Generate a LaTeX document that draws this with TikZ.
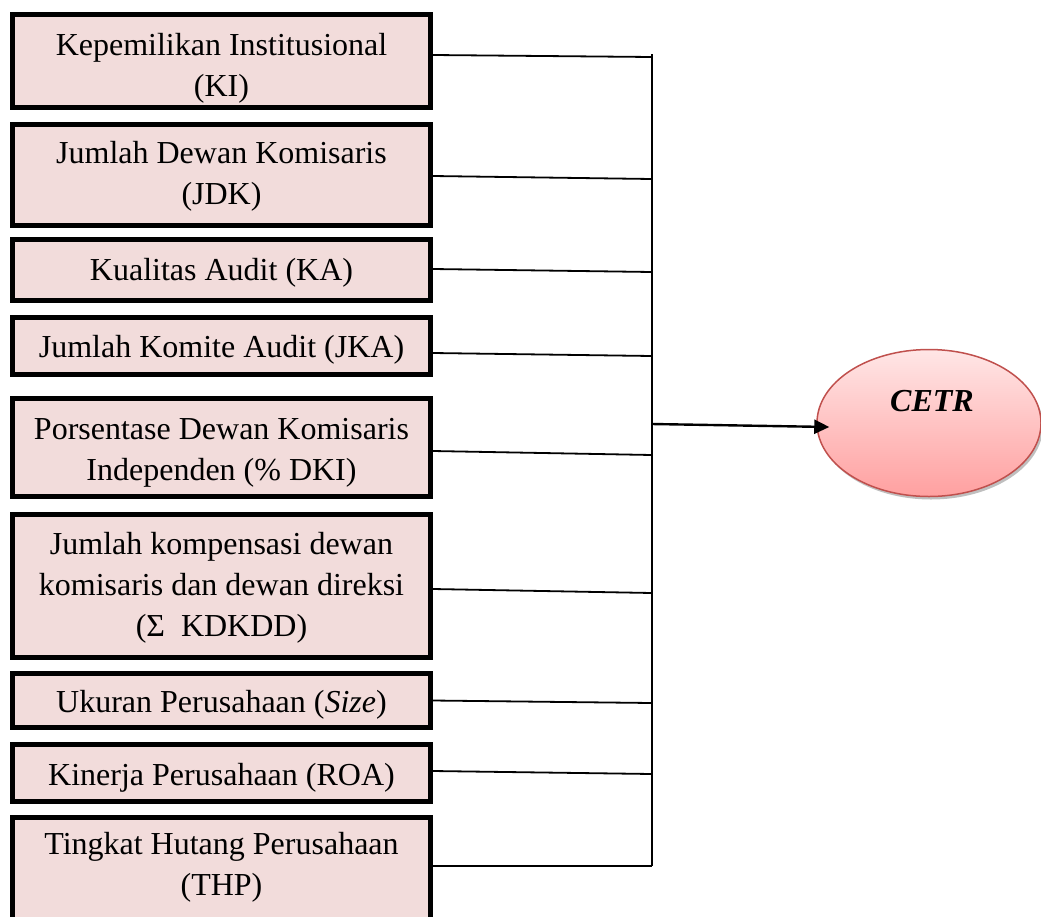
\documentclass[tikz,border=0pt]{standalone}
\usepackage{fontspec}
\setmainfont{Liberation Serif}
\usetikzlibrary{shapes.geometric,arrows.meta,shadows}
\definecolor{boxfill}{HTML}{F2DCDB}
\definecolor{ellborder}{HTML}{C0504D}
\definecolor{elltop}{HTML}{FFE6E6}
\definecolor{ellbot}{HTML}{FFA0A0}
\begin{document}
\begin{tikzpicture}[x=1pt,y=-1pt,
  varbox/.style={draw=black,line width=5pt,fill=boxfill,minimum width=418pt,
    inner sep=0pt,align=center,font=\fontsize{32}{41}\selectfont,text depth=0pt,
    drop shadow={shadow xshift=0.8pt,shadow yshift=-0.8pt,fill=black,opacity=0.35}},
  wire/.style={line width=1.8pt,draw=black},
  mainarrow/.style={line width=2.4pt,draw=black,-{Triangle[length=15pt,width=14pt]}},
  target/.style={ellipse,draw=ellborder,line width=1.5pt,top color=elltop,bottom color=ellbot,
    minimum width=224pt,minimum height=147pt,
    drop shadow={shadow xshift=2pt,shadow yshift=-3pt,fill=black,opacity=0.25}},
  targettext/.style={font=\fontsize{32}{38}\selectfont\bfseries\itshape,inner sep=0pt}
]
\useasboundingbox (0,0) rectangle (1041,916);

\node[varbox,minimum height=93pt,text height=71.4pt]  (b1) at (221.5,61)    {Kepemilikan Institusional\\(KI)};
\node[varbox,minimum height=101pt,text height=58pt]   (b2) at (221.5,175)   {Jumlah Dewan Komisaris\\(JDK)};
\node[varbox,minimum height=61pt,text height=20pt]    (b3) at (221.5,270)   {Kualitas Audit (KA)};
\node[varbox,minimum height=57pt,text height=22.6pt]  (b4) at (221.5,346)   {Jumlah Komite Audit (JKA)};
\node[varbox,minimum height=98pt,text height=65pt]    (b5) at (221.5,447.5) {Porsentase Dewan Komisaris\\Independen (\% DKI)};
\node[varbox,minimum height=143pt,text height=100pt]  (b6) at (221.5,586)   {Jumlah kompensasi dewan\\komisaris dan dewan direksi\\(Σ\ \ KDKDD)};
\node[varbox,minimum height=54pt,text height=23.6pt]  (b7) at (221.5,700.5) {Ukuran Perusahaan (\textit{Size})};
\node[varbox,minimum height=57pt,text height=25.4pt]  (b8) at (221.5,773)   {Kinerja Perusahaan (ROA)};
\node[varbox,minimum height=110pt,text height=45pt]   (b9) at (221.5,872.5) {Tingkat Hutang Perusahaan\\(THP)};

\coordinate (vtop) at (652,54);
\coordinate (vbot) at (652,866);
\coordinate (j1) at (652,57);
\coordinate (j2) at (652,179);
\coordinate (j3) at (652,272);
\coordinate (j4) at (652,356);
\coordinate (j5) at (652,455);
\coordinate (j6) at (652,593);
\coordinate (j7) at (652,703);
\coordinate (j8) at (652,774);
\coordinate (j9) at (652,866);
\coordinate (jA) at (652,424);

\draw[wire] (vtop) -- (vbot);
\draw[wire] ([yshift=6pt]b1.east) -- (j1);
\draw[wire] ([yshift=-1pt]b2.east) -- (j2);
\draw[wire] ([yshift=1pt]b3.east) -- (j3);
\draw[wire] ([yshift=-7pt]b4.east) -- (j4);
\draw[wire] ([yshift=-3.5pt]b5.east) -- (j5);
\draw[wire] ([yshift=-3pt]b6.east) -- (j6);
\draw[wire] ([yshift=0pt]b7.east) -- (j7);
\draw[wire] ([yshift=2pt]b8.east) -- (j8);
\draw[wire] ([yshift=6.5pt]b9.east) -- (j9);

\node[target] (cetr) at (929,423) {};
\node[targettext] (cetrlabel) at (932,401) {CETR};
\draw[mainarrow] (jA) -- ([shift={(13,4)}]cetr.west);
\end{tikzpicture}
\end{document}
